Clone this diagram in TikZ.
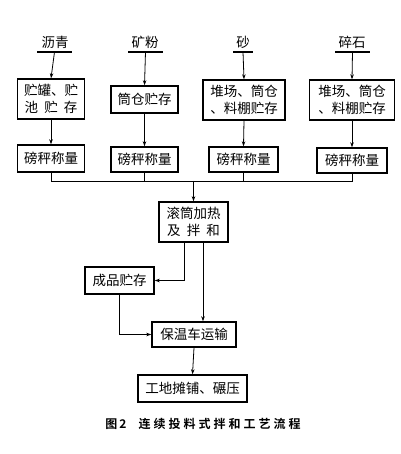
\documentclass[tikz,border=0pt]{standalone}
\usepackage{fontspec}
\newfontfamily\cjk{Noto Sans CJK SC}
\newfontfamily\cjkbold{Noto Sans CJK SC Bold}[LetterSpace=25]
\usetikzlibrary{arrows.meta}
\begin{document}
\begin{tikzpicture}[x=1pt,y=-1pt,
  box/.style={draw,line width=1.4pt,inner sep=1pt,align=center,font=\cjk\fontsize{13.5}{17}\selectfont},
  src/.style={inner sep=0pt,font=\cjk\fontsize{13.5}{16}\selectfont},
  uline/.style={line width=1.6pt},
  conn/.style={line width=0.8pt},
  arr/.style={conn,-{Stealth[length=5pt,width=3.5pt]}}]
\useasboundingbox (0,0) rectangle (400,454);
% source labels
\node[src] (l1) at (55,42) {沥青};
\node[src] (l2) at (145,42) {矿粉};
\node[src] (l3) at (243,42) {砂};
\node[src] (l4) at (352,42) {碎石};
\coordinate (u1) at (54.5,52); \coordinate (u2) at (145.5,52);
\coordinate (u3) at (243,52); \coordinate (u4) at (352.5,52);
\draw[uline] ([xshift=-17.5]u1) -- ([xshift=17.5]u1);
\draw[uline] ([xshift=-17.5]u2) -- ([xshift=17.5]u2);
\draw[uline] ([xshift=-10]u3) -- ([xshift=10]u3);
\draw[uline] ([xshift=-17.5]u4) -- ([xshift=17.5]u4);
% storage boxes
\node[box,minimum width=67pt,minimum height=40pt] (b1) at (51,99) {贮罐、贮\\池\ \ 贮\ \ 存};
\node[box,minimum width=67pt,minimum height=27pt] (b2) at (144.5,99.5) {筒仓贮存};
\node[box,minimum width=82pt,minimum height=40pt] (b3) at (244,100) {堆场、筒仓\\、料棚贮存};
\node[box,minimum width=85pt,minimum height=40pt] (b4) at (352,100) {堆场、筒仓\\、料棚贮存};
% weighing boxes
\node[box,minimum width=67pt,minimum height=27pt] (w1) at (51,158.5) {磅秤称量};
\node[box,minimum width=67pt,minimum height=25pt] (w2) at (144.5,159.5) {磅秤称量};
\node[box,minimum width=69pt,minimum height=25pt] (w3) at (243.5,159.5) {磅秤称量};
\node[box,minimum width=70pt,minimum height=25pt] (w4) at (352,160.5) {磅秤称量};
% process
\node[box,minimum width=69pt,minimum height=40pt] (drum) at (193.5,222) {滚筒加热\\及\ \ 拌\ \ 和};
\node[box,minimum width=69pt,minimum height=27pt] (store) at (119.5,280.5) {成品贮存};
\node[box,minimum width=84pt,minimum height=25pt] (truck) at (194,334.5) {保温车运输};
\node[box,minimum width=109pt,minimum height=27pt] (site) at (192.5,388.5) {工地摊铺、碾压};
\node[inner sep=0pt,font=\cjkbold\fontsize{12}{14}\selectfont] (cap) at (203,424) {图\,2\hspace{12pt}连续投料式拌和工艺流程};
% connectors
\draw[arr] (u1) -- (b1.north);
\draw[arr] (u2) -- (b2.north);
\draw[arr] (u3) -- (b3.north);
\draw[arr] (u4) -- (b4.north);
\draw[arr] (b1.south) -- (w1.north);
\draw[arr] (b2.south) -- (w2.north);
\draw[arr] (b3.south) -- (w3.north);
\draw[arr] (b4.south) -- (w4.north);
\coordinate (bus) at (193.5,181);
\draw[conn] (w1.south) -- (w1.south |- bus) -- (w4.south |- bus) -- (w4.south);
\draw[conn] (w2.south) -- (w2.south |- bus);
\draw[conn] (w3.south) -- (w3.south |- bus);
\draw[arr] (bus) -- (drum.north);
\draw[arr] ([xshift=-9.5]drum.south) |- (store.east);
\draw[arr] ([xshift=9.5]drum.south) -- ([xshift=9.5]drum.south |- truck.north);
\draw[arr] (store.south) |- (truck.west);
\draw[arr] (truck.south) -- (site.north);
\end{tikzpicture}
\end{document}
